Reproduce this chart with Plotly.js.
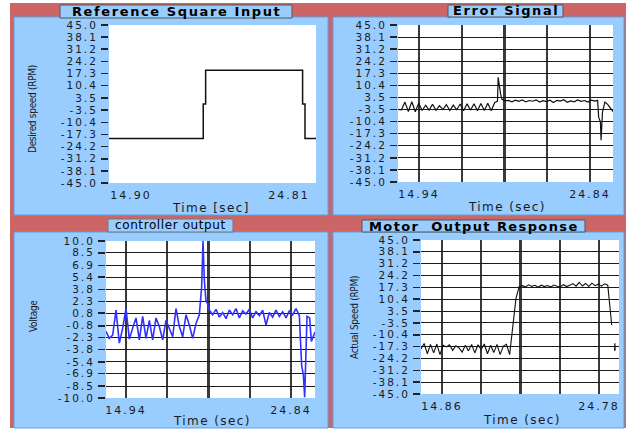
<!DOCTYPE html>
<html><head><meta charset="utf-8">
<script src="https://cdn.plot.ly/plotly-3.0.1.min.js"></script>
<style>html,body{margin:0;padding:0;background:#fff;}#chart{width:629px;height:430px;}</style>
</head><body><div id="chart"></div>
<script>
// ---------- DATA ----------
const speedTickLabels = ['45.0','38.1','31.2','24.2','17.3','10.4','3.5','-3.5','-10.4','-17.3','-24.2','-31.2','-38.1','-45.0'];
const voltTickLabels  = ['10.0','8.5','6.9','5.4','3.8','2.3','0.8','-0.8','-2.3','-3.8','-5.4','-6.9','-8.5','-10.0'];

const refTickVals  = [14.90, 24.81];
const refTickText  = ['14.90', '24.81'];
const errTickVals  = [14.94, 17.415, 19.89, 22.365, 24.84];
const errTickText  = ['14.94', '', '', '', '24.84'];
const ctrlTickVals = [14.94, 17.415, 19.89, 22.365, 24.84];
const ctrlTickText = ['14.94', '', '', '', '24.84'];
const motTickVals  = [14.86, 17.34, 19.82, 22.30, 24.78];
const motTickText  = ['14.86', '', '', '', '24.78'];

// Reference square input (RPM)
const refTime  = [13.52, 19.43, 19.43, 19.58, 19.58, 25.66, 25.66, 25.81, 25.81, 26.50];
const refSpeed = [-19.6, -19.6, 0.0, 0.0, 19.2, 19.2, 0.0, 0.0, -19.6, -19.6];

// Error signal (RPM)
const errTime = [13.72,13.92,14.12,14.32,14.52,14.72,14.92,15.12,15.32,15.52,15.72,15.92,16.12,16.32,16.52,16.72,16.92,17.12,17.32,17.52,17.72,17.92,18.12,18.32,18.52,18.72,18.92,19.12,19.32,19.48,19.52,19.60,19.66,19.74,
  19.92,20.12,20.32,20.52,20.72,20.92,21.12,21.32,21.52,21.72,21.92,22.12,22.32,22.52,22.72,22.92,23.12,23.32,23.52,23.72,23.92,24.12,24.32,24.52,24.72,24.92,25.12,25.28,
  25.34,25.44,25.48,25.56,25.70,25.86,26.02,26.17];
const errValue = [-3.4,-3.6,0.8,-4.6,1.0,-4.7,0.2,-4.0,-1.0,-3.8,-0.4,-3.9,-1.2,-3.5,-0.6,-4.0,-0.9,-3.6,-0.3,-4.1,-0.2,-3.9,-0.1,-4.2,0.0,-4.0,0.1,-4.1,0.6,1.2,15.0,7.5,5.5,2.4,
  1.5,1.8,1.0,1.9,1.2,2.0,0.9,1.7,1.3,2.1,0.8,1.6,1.1,1.9,0.6,1.8,1.4,2.2,0.7,1.5,1.0,2.0,1.2,1.7,0.8,1.9,1.4,1.8,
  -8.0,-10.5,-21.0,-5.0,0.8,-0.5,-3.0,-4.6];

// Controller output (V)
const ctrlTime = [13.74,13.94,14.14,14.34,14.54,14.74,14.94,15.14,15.34,15.54,15.74,15.94,16.14,16.34,16.54,16.74,16.94,17.14,17.34,17.54,17.74,17.94,18.14,18.34,18.54,18.74,18.94,19.14,19.34,
  19.48,19.56,19.64,19.74,19.84,19.94,20.14,20.34,20.54,20.74,20.94,21.14,21.34,21.54,21.74,21.94,22.14,22.34,22.54,22.74,22.94,23.14,23.34,23.54,23.74,23.94,24.14,24.34,24.54,24.74,24.94,25.14,25.34,
  25.48,25.58,25.66,25.80,25.96,26.06,26.28];
const ctrlVolt = [-1.5,-2.4,-2.0,1.2,-3.0,-1.1,1.4,-2.5,-1.1,0.2,-2.6,0.4,-2.4,-0.1,-2.6,0.2,-0.9,-2.6,-0.1,-1.1,-2.2,1.4,-0.9,-2.2,0.6,-0.7,-2.4,-0.5,0.6,
  4.2,10.0,5.0,2.4,2.0,1.2,0.6,1.3,0.3,0.9,0.1,1.2,0.6,1.4,0.2,1.1,0.7,1.3,0.2,1.0,0.5,1.2,-0.7,0.9,0.3,1.2,0.4,1.0,0.2,1.1,0.6,1.4,0.5,
  -5.9,-7.0,-9.9,0.4,0.2,-2.8,-1.6];

// Motor output response (RPM)
const motTime = [13.53,13.73,13.93,14.13,14.33,14.53,14.73,14.93,15.13,15.33,15.53,15.73,15.93,16.13,16.33,16.53,16.73,16.93,17.13,17.33,17.53,17.73,17.93,18.13,18.33,18.53,18.73,18.93,19.13,
  19.33,19.53,19.73,19.93,20.13,20.33,20.53,20.73,20.93,21.13,21.33,21.53,21.73,21.93,22.13,22.33,22.53,22.73,22.93,23.13,23.33,23.53,23.73,23.93,24.13,24.33,24.53,24.73,24.93,25.13,25.33,
  25.45,25.58,25.68,25.76,25.78,25.80];
const motSpeed = [-18.5,-15.5,-21.5,-16.0,-21.0,-15.8,-22.0,-16.5,-17.5,-16.2,-19.5,-16.8,-18.0,-20.5,-16.5,-19.8,-16.0,-21.0,-16.2,-19.0,-15.8,-21.5,-16.5,-20.8,-16.0,-22.0,-17.0,-16.0,-22.0,
  -5.7,10.9,17.7,18.3,17.6,18.8,17.9,18.5,17.4,18.6,17.8,18.4,17.5,18.7,18.0,17.6,18.9,17.8,18.6,19.5,18.0,20.2,18.1,19.6,17.9,19.8,18.3,19.2,18.0,19.4,18.6,
  8.9,-4.7,null,-19.8,-15.3,-19.5];

// ---------- LAYOUT HELPERS ----------
const W = 629, H = 430;
const fx = p => p / W;
const fy = p => 1 - p / H;
const RED = '#cc6666', BLUE = '#99ccff';
const tickFont = {family: 'DejaVu Sans, sans-serif', size: 10.5, color: '#1a1a1a'};
const spaced = (s, ls) => s === '' ? '' : '<span style="letter-spacing:' + ls + 'px">' + s + '</span>';

function rect(x0, y0, x1, y1, fill, line, lw) {
  return {type: 'rect', xref: 'paper', yref: 'paper', layer: 'below',
    x0: fx(x0), x1: fx(x1), y0: fy(y1), y1: fy(y0),
    fillcolor: fill, line: {color: line || fill, width: lw === undefined ? 0 : lw}};
}
function note(text, x, y, font, angle) {
  return {text: text, xref: 'paper', yref: 'paper', x: fx(x), y: fy(y),
    xanchor: 'center', yanchor: 'middle', showarrow: false, font: font, textangle: angle || 0};
}
function xAxis(domL, domR, range, vals, text, grid, anchor) {
  return {domain: [fx(domL), fx(domR)], range: range, anchor: anchor, tickmode: 'array',
    tickvals: vals, ticktext: text.map(s => spaced(s, 2)), ticks: '', showgrid: grid, gridcolor: '#3a3a3a', gridwidth: 2.2,
    zeroline: false, showline: false, tickfont: {family: 'DejaVu Sans, sans-serif', size: 11, color: '#1a1a1a'},
    fixedrange: true, ticklabelstandoff: 4};
}
function yAxis(domT, domB, range, labels, grid, anchor) {
  return {domain: [fy(domB), fy(domT)], range: range, anchor: anchor, tickmode: 'array',
    tickvals: labels.map(Number), ticktext: labels.map(s => spaced(s, 2)), ticks: 'outside', ticklen: 7, tickwidth: 1.5,
    tickcolor: '#222', showgrid: grid, gridcolor: '#1a1a1a', gridwidth: 1,
    zeroline: false, showline: false, tickfont: tickFont, fixedrange: true, ticklabelstandoff: 1};
}

const traces = [
  {x: refTime, y: refSpeed, xaxis: 'x', yaxis: 'y', mode: 'lines', line: {color: '#111', width: 1.5}},
  {x: errTime, y: errValue, xaxis: 'x2', yaxis: 'y2', mode: 'lines', line: {color: '#111', width: 1.2}},
  {x: ctrlTime, y: ctrlVolt, xaxis: 'x3', yaxis: 'y3', mode: 'lines', line: {color: '#3030ff', width: 1.6}},
  {x: motTime, y: motSpeed, xaxis: 'x4', yaxis: 'y4', mode: 'lines', connectgaps: false, line: {color: '#111', width: 1.1}}
];

const shapes = [
  rect(10, 3, 626, 428, RED),
  rect(14, 17, 328, 215, BLUE, '#5b9fe8', 1),
  rect(333, 17, 624, 215, BLUE, '#5b9fe8', 1),
  rect(14, 232, 328, 428, BLUE, '#5b9fe8', 1),
  rect(333, 232, 624, 428, BLUE, '#5b9fe8', 1),
  rect(109, 25, 316, 183, '#ffffff'),
  rect(398, 25, 613, 182, '#ffffff'),
  rect(106, 241, 315, 398, '#ffffff'),
  rect(421, 240, 619, 394, '#ffffff'),
  rect(60, 5, 292, 18, BLUE, '#555', 1),
  rect(448, 5, 563, 17, BLUE, '#555', 1),
  rect(108, 219, 233, 232, BLUE, '#777', 1),
  rect(362, 220, 585, 232, BLUE, '#555', 1)
];

const titleFont = {family: 'DejaVu Sans, sans-serif', size: 13, color: '#000', weight: 'bold'};
const axisTitleFont = {family: 'DejaVu Sans, sans-serif', size: 12, color: '#1a1a1a'};
const narrowFont = {family: 'Liberation Sans Narrow, DejaVu Sans Condensed, Liberation Sans, sans-serif', size: 10, color: '#1a1a1a'};

const annotations = [
  note(spaced('Reference Square Input', 1.6), 176, 11.5, titleFont),
  note(spaced('Error Signal', 1.6), 505.5, 11, titleFont),
  note(spaced('controller output', 0.6), 170.5, 225.5, {family: 'DejaVu Sans, sans-serif', size: 12, color: '#000'}),
  note(spaced('Motor  Output Response', 1.4), 473.5, 226, titleFont),
  note(spaced('Time [sec]', 1.4), 211, 208, axisTitleFont),
  note(spaced('Time (sec)', 1.4), 507, 207, axisTitleFont),
  note(spaced('Time (sec)', 1.4), 212, 421, axisTitleFont),
  note(spaced('Time (sec)', 1.4), 522, 420, axisTitleFont),
  note(spaced('Desired speed (RPM)', -0.3), 33, 109, narrowFont, -90),
  note(spaced('Voltage', -0.3), 33, 316, narrowFont, -90),
  note(spaced('Actual Speed (RPM)', -0.3), 354, 318, narrowFont, -90)
];

const layout = {
  width: W, height: H, margin: {l: 0, r: 0, t: 0, b: 0},
  paper_bgcolor: '#ffffff', plot_bgcolor: 'rgba(0,0,0,0)', showlegend: false,
  xaxis:  xAxis(109, 316, [13.52, 26.50], refTickVals, refTickText, false, 'y'),
  yaxis:  yAxis(25, 183, [-45, 45], speedTickLabels, false, 'x'),
  xaxis2: xAxis(398, 613, [13.72, 26.17], errTickVals, errTickText, true, 'y2'),
  yaxis2: yAxis(25, 182, [-45, 45], speedTickLabels, true, 'x2'),
  xaxis3: xAxis(106, 315, [13.74, 26.28], ctrlTickVals, ctrlTickText, true, 'y3'),
  yaxis3: yAxis(241, 398, [-10, 10], voltTickLabels, true, 'x3'),
  xaxis4: xAxis(421, 619, [13.53, 26.04], motTickVals, motTickText, true, 'y4'),
  yaxis4: yAxis(240, 394, [-45, 45], speedTickLabels, true, 'x4'),
  shapes: shapes, annotations: annotations
};

Plotly.newPlot('chart', traces, layout, {displayModeBar: false, staticPlot: true});
</script></body></html>
